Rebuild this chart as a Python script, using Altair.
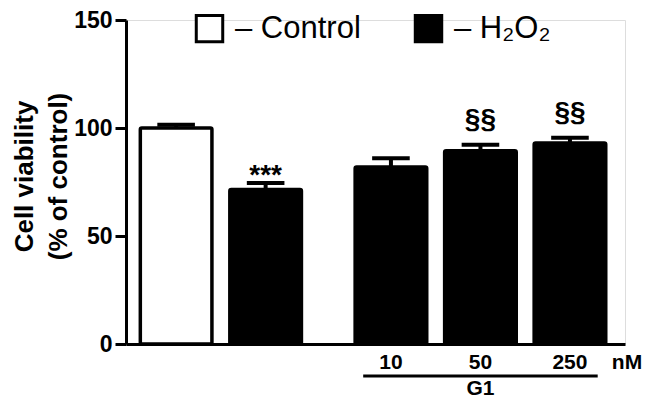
import altair as alt
import pandas as pd

# ---- data ----
conditions = ["Control", "H2O2", "10", "50", "250"]
treatments = ["Control", "H₂O₂", "H₂O₂", "H₂O₂", "H₂O₂"]
groups = ["", "", "G1", "G1", "G1"]
means = [100.0, 71.5, 82.0, 89.5, 93.0]
errors = [1.5, 3.0, 4.0, 2.7, 2.5]
sig_marks = ["", "***", "", "§§", "§§"]
conc_labels = ["", "", "10", "50", "250"]
unit_label = ["nM"]
y_ticks = [0, 50, 100, 150]
y_title = ["Cell viability", "(%  of control)"]

# ---- layout (not data) ----
W, H = 499, 324
FONT = "Liberation Sans"
group_gap = 0.40
half_bar = 0.40
half_cap = 0.21

pos = [i + 0.56 + (group_gap if g == "G1" else 0.0) for i, g in enumerate(groups)]
df = pd.DataFrame({
    "condition": conditions,
    "treatment": treatments,
    "group": groups,
    "mean": means,
    "err": errors,
    "sig": sig_marks,
    "conc": conc_labels,
    "pos": pos,
})
df["lo"] = df["pos"] - half_bar
df["hi"] = df["pos"] + half_bar
df["top"] = df["mean"] + df["err"]
df["cap_lo"] = df["pos"] - half_cap
df["cap_hi"] = df["pos"] + half_cap

xscale = alt.Scale(domain=[0, 5.575], nice=False, zero=False)
yscale = alt.Scale(domain=[0, 150], nice=False)

base = alt.Chart(df)

bars = base.mark_bar(stroke="black", strokeWidth=3.5, cornerRadius=1.5).encode(
    x=alt.X("lo:Q", scale=xscale,
            axis=alt.Axis(domain=True, domainColor="black", domainWidth=3,
                          ticks=False, labels=False, grid=False, title=None)),
    x2="hi:Q",
    y=alt.Y("mean:Q", scale=yscale,
            axis=alt.Axis(values=y_ticks, grid=False, domainColor="black", domainWidth=3,
                          tickColor="black", tickWidth=3, tickSize=11, labelPadding=3,
                          labelFont=FONT, labelFontSize=23, labelFontWeight="bold",
                          labelColor="black", title=y_title, titleFont=FONT,
                          titleFontSize=26, titleFontWeight="bold", titleColor="black",
                          titleLineHeight=34, titleX=-94, titleY=156,
                          titleBaseline="alphabetic")),
    y2=alt.datum(0),
    fill=alt.Fill("treatment:N",
                  scale=alt.Scale(domain=["Control", "H₂O₂"], range=["white", "black"]),
                  legend=alt.Legend(title=None, orient="none", legendX=68, legendY=-7,
                                    direction="horizontal", symbolType="square",
                                    symbolSize=700, symbolStrokeColor="black",
                                    symbolStrokeWidth=3, labelFont=FONT, labelFontSize=31,
                                    labelColor="black", labelOffset=10, columnPadding=48,
                                    labelExpr="'– ' + datum.label")),
)

stems = base.mark_rule(color="black", strokeWidth=4).encode(
    x=alt.X("pos:Q", scale=xscale), y=alt.Y("mean:Q", scale=yscale), y2="top:Q"
)
caps = base.mark_rule(color="black", strokeWidth=4).encode(
    x=alt.X("cap_lo:Q", scale=xscale), x2="cap_hi:Q", y=alt.Y("top:Q", scale=yscale)
)

stars = base.transform_filter("datum.sig == '***'").mark_text(
    font=FONT, fontSize=28, fontWeight="bold", color="black", baseline="alphabetic", dy=1
).encode(x=alt.X("pos:Q", scale=xscale), y=alt.Y("top:Q", scale=yscale), text="sig:N")

sections = base.transform_filter("datum.sig == '§§'").mark_text(
    font=FONT, fontSize=28, fontWeight="bold", color="black", baseline="alphabetic", dy=-17
).encode(x=alt.X("pos:Q", scale=xscale), y=alt.Y("top:Q", scale=yscale), text="sig:N")

conc_text = base.transform_filter("datum.conc != ''").mark_text(
    font=FONT, fontSize=21, fontWeight="bold", color="black", baseline="middle"
).encode(x=alt.X("pos:Q", scale=xscale), y=alt.value(H + 19), text="conc:N")

unit_text = alt.Chart(pd.DataFrame({"u": unit_label})).mark_text(
    font=FONT, fontSize=21, fontWeight="bold", color="black", baseline="middle"
).encode(x=alt.value(W + 2), y=alt.value(H + 19), text="u:N")

g1 = base.transform_filter("datum.group == 'G1'").transform_aggregate(
    pmin="min(pos)", pmax="max(pos)", pmid="mean(pos)", groupby=["group"]
).transform_calculate(l0="datum.pmin - 0.31", l1="datum.pmax + 0.31")

g1_line = g1.mark_rule(color="black", strokeWidth=3).encode(
    x=alt.X("l0:Q", scale=xscale), x2="l1:Q", y=alt.value(H + 32)
)
g1_text = g1.mark_text(
    font=FONT, fontSize=21, fontWeight="bold", color="black", baseline="middle"
).encode(x=alt.X("pmid:Q", scale=xscale), y=alt.value(H + 45), text="group:N")

chart = alt.layer(
    bars, stems, caps, stars, sections, conc_text, unit_text, g1_line, g1_text
).properties(
    width=W, height=H,
    autosize=alt.AutoSizeParams(type="none"),
    padding={"left": 118, "top": 12, "right": 17, "bottom": 55},
).configure_view(stroke=None).configure(background="white")

chart.save("out.html", embed_options={"renderer": "svg", "actions": False})
